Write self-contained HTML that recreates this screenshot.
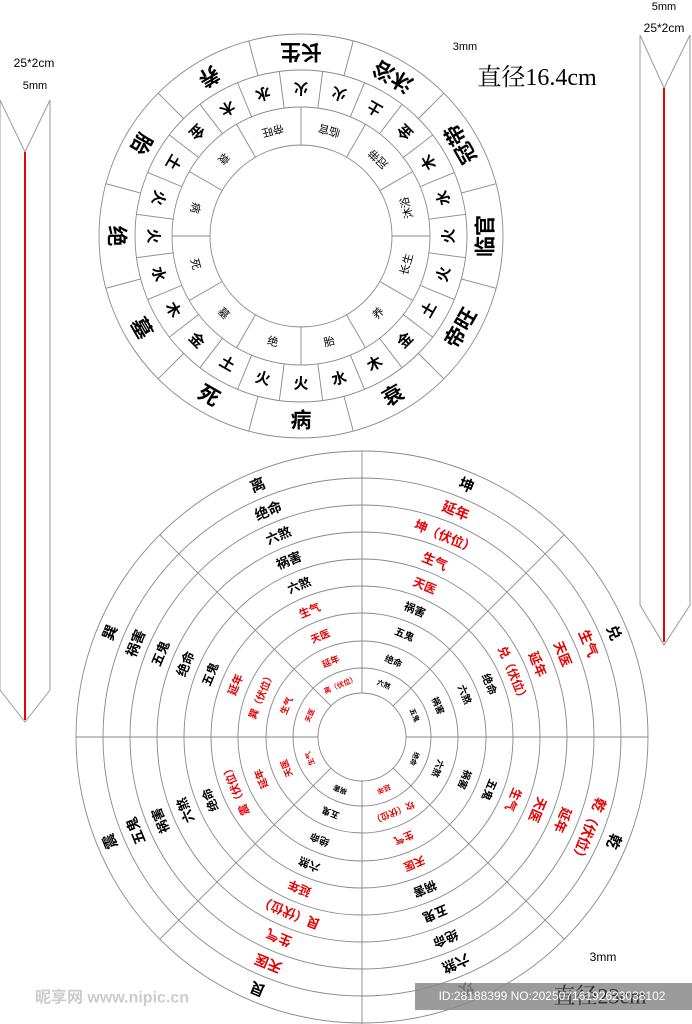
<!DOCTYPE html>
<html><head><meta charset="utf-8"><style>
html,body{margin:0;padding:0;background:#fff}
svg{display:block}
text{font-family:"Liberation Sans","Noto Sans CJK SC",sans-serif;text-anchor:middle;dominant-baseline:central}
.c{font-family:"Noto Sans CJK SC","WenQuanYi Zen Hei",sans-serif;font-weight:bold}
.r{fill:#e60000}
</style></head><body>
<svg width="692" height="1024" viewBox="0 0 692 1024" xmlns="http://www.w3.org/2000/svg">
<polygon points="0,100 25,152 50,100 50,690 25,722 0,690" fill="none" stroke="#999" stroke-width="1"/>
<line x1="25" y1="152" x2="25" y2="720" stroke="#e00" stroke-width="2"/>
<polygon points="640,35 664,88 690,35 690,605 664,645 640,605" fill="none" stroke="#999" stroke-width="1"/>
<line x1="664" y1="88" x2="664" y2="642" stroke="#e00" stroke-width="2"/>
<text x="34" y="63" font-size="12">25*2cm</text>
<text x="35" y="86" font-size="11" font-family="Liberation Serif">5mm</text>
<text x="664" y="7" font-size="11" font-family="Liberation Serif">5mm</text>
<text x="664" y="28" font-size="12">25*2cm</text>
<text x="465" y="47" font-size="11" font-family="Liberation Serif">3mm</text>
<text x="537" y="78" font-size="24" style="font-family:'Liberation Serif','Noto Serif CJK SC',serif">直径16.4cm</text>

<g transform="translate(301,236)" fill="none" stroke="#888" stroke-width="0.9">
<circle r="202"/><circle r="166"/><circle r="129"/><circle r="91"/>
<g><line x1="0" y1="-166" x2="0" y2="-202" transform="rotate(15)"/><line x1="0" y1="-166" x2="0" y2="-202" transform="rotate(45)"/><line x1="0" y1="-166" x2="0" y2="-202" transform="rotate(75)"/><line x1="0" y1="-166" x2="0" y2="-202" transform="rotate(105)"/><line x1="0" y1="-166" x2="0" y2="-202" transform="rotate(135)"/><line x1="0" y1="-166" x2="0" y2="-202" transform="rotate(165)"/><line x1="0" y1="-166" x2="0" y2="-202" transform="rotate(195)"/><line x1="0" y1="-166" x2="0" y2="-202" transform="rotate(225)"/><line x1="0" y1="-166" x2="0" y2="-202" transform="rotate(255)"/><line x1="0" y1="-166" x2="0" y2="-202" transform="rotate(285)"/><line x1="0" y1="-166" x2="0" y2="-202" transform="rotate(315)"/><line x1="0" y1="-166" x2="0" y2="-202" transform="rotate(345)"/></g>
<g><line x1="0" y1="-129" x2="0" y2="-166" transform="rotate(7.5)"/><line x1="0" y1="-129" x2="0" y2="-166" transform="rotate(22.5)"/><line x1="0" y1="-129" x2="0" y2="-166" transform="rotate(37.5)"/><line x1="0" y1="-129" x2="0" y2="-166" transform="rotate(52.5)"/><line x1="0" y1="-129" x2="0" y2="-166" transform="rotate(67.5)"/><line x1="0" y1="-129" x2="0" y2="-166" transform="rotate(82.5)"/><line x1="0" y1="-129" x2="0" y2="-166" transform="rotate(97.5)"/><line x1="0" y1="-129" x2="0" y2="-166" transform="rotate(112.5)"/><line x1="0" y1="-129" x2="0" y2="-166" transform="rotate(127.5)"/><line x1="0" y1="-129" x2="0" y2="-166" transform="rotate(142.5)"/><line x1="0" y1="-129" x2="0" y2="-166" transform="rotate(157.5)"/><line x1="0" y1="-129" x2="0" y2="-166" transform="rotate(172.5)"/><line x1="0" y1="-129" x2="0" y2="-166" transform="rotate(187.5)"/><line x1="0" y1="-129" x2="0" y2="-166" transform="rotate(202.5)"/><line x1="0" y1="-129" x2="0" y2="-166" transform="rotate(217.5)"/><line x1="0" y1="-129" x2="0" y2="-166" transform="rotate(232.5)"/><line x1="0" y1="-129" x2="0" y2="-166" transform="rotate(247.5)"/><line x1="0" y1="-129" x2="0" y2="-166" transform="rotate(262.5)"/><line x1="0" y1="-129" x2="0" y2="-166" transform="rotate(277.5)"/><line x1="0" y1="-129" x2="0" y2="-166" transform="rotate(292.5)"/><line x1="0" y1="-129" x2="0" y2="-166" transform="rotate(307.5)"/><line x1="0" y1="-129" x2="0" y2="-166" transform="rotate(322.5)"/><line x1="0" y1="-129" x2="0" y2="-166" transform="rotate(337.5)"/><line x1="0" y1="-129" x2="0" y2="-166" transform="rotate(352.5)"/></g>
<g><line x1="0" y1="-91" x2="0" y2="-129" transform="rotate(0)"/><line x1="0" y1="-91" x2="0" y2="-129" transform="rotate(30)"/><line x1="0" y1="-91" x2="0" y2="-129" transform="rotate(60)"/><line x1="0" y1="-91" x2="0" y2="-129" transform="rotate(90)"/><line x1="0" y1="-91" x2="0" y2="-129" transform="rotate(120)"/><line x1="0" y1="-91" x2="0" y2="-129" transform="rotate(150)"/><line x1="0" y1="-91" x2="0" y2="-129" transform="rotate(180)"/><line x1="0" y1="-91" x2="0" y2="-129" transform="rotate(210)"/><line x1="0" y1="-91" x2="0" y2="-129" transform="rotate(240)"/><line x1="0" y1="-91" x2="0" y2="-129" transform="rotate(270)"/><line x1="0" y1="-91" x2="0" y2="-129" transform="rotate(300)"/><line x1="0" y1="-91" x2="0" y2="-129" transform="rotate(330)"/></g>
</g>
<g transform="translate(301,236)" class="c" fill="#000">
<g font-size="21">
<text transform="rotate(0) translate(0,-185) rotate(180)">长生</text>
<text transform="rotate(30) translate(0,-185) rotate(180)">沐浴</text>
<text transform="rotate(60) translate(0,-185) rotate(180)">冠带</text>
<text transform="rotate(90) translate(0,-185) rotate(180)">临官</text>
<text transform="rotate(120) translate(0,-185) rotate(180)">帝旺</text>
<text transform="rotate(150) translate(0,-185) rotate(180)">衰</text>
<text transform="rotate(180) translate(0,-185) rotate(180)">病</text>
<text transform="rotate(210) translate(0,-185) rotate(180)">死</text>
<text transform="rotate(240) translate(0,-185) rotate(180)">墓</text>
<text transform="rotate(270) translate(0,-185) rotate(180)">绝</text>
<text transform="rotate(300) translate(0,-185) rotate(180)">胎</text>
<text transform="rotate(330) translate(0,-185) rotate(180)">养</text>
</g>
<g font-size="15">
<text transform="rotate(0) translate(0,-148) rotate(180)">火</text>
<text transform="rotate(15) translate(0,-148) rotate(180)">火</text>
<text transform="rotate(30) translate(0,-148) rotate(180)">土</text>
<text transform="rotate(45) translate(0,-148) rotate(180)">金</text>
<text transform="rotate(60) translate(0,-148) rotate(180)">木</text>
<text transform="rotate(75) translate(0,-148) rotate(180)">水</text>
<text transform="rotate(90) translate(0,-148) rotate(180)">火</text>
<text transform="rotate(105) translate(0,-148) rotate(180)">火</text>
<text transform="rotate(120) translate(0,-148) rotate(180)">土</text>
<text transform="rotate(135) translate(0,-148) rotate(180)">金</text>
<text transform="rotate(150) translate(0,-148) rotate(180)">木</text>
<text transform="rotate(165) translate(0,-148) rotate(180)">水</text>
<text transform="rotate(180) translate(0,-148) rotate(180)">火</text>
<text transform="rotate(195) translate(0,-148) rotate(180)">火</text>
<text transform="rotate(210) translate(0,-148) rotate(180)">土</text>
<text transform="rotate(225) translate(0,-148) rotate(180)">金</text>
<text transform="rotate(240) translate(0,-148) rotate(180)">木</text>
<text transform="rotate(255) translate(0,-148) rotate(180)">水</text>
<text transform="rotate(270) translate(0,-148) rotate(180)">火</text>
<text transform="rotate(285) translate(0,-148) rotate(180)">火</text>
<text transform="rotate(300) translate(0,-148) rotate(180)">土</text>
<text transform="rotate(315) translate(0,-148) rotate(180)">金</text>
<text transform="rotate(330) translate(0,-148) rotate(180)">木</text>
<text transform="rotate(345) translate(0,-148) rotate(180)">水</text>
</g>
<g font-size="11" font-weight="normal">
<text transform="rotate(15) translate(0,-110) rotate(180)">临官</text>
<text transform="rotate(45) translate(0,-110) rotate(180)">冠带</text>
<text transform="rotate(75) translate(0,-110) rotate(180)">沐浴</text>
<text transform="rotate(105) translate(0,-110) rotate(180)">长生</text>
<text transform="rotate(135) translate(0,-110) rotate(180)">养</text>
<text transform="rotate(165) translate(0,-110) rotate(180)">胎</text>
<text transform="rotate(195) translate(0,-110) rotate(180)">绝</text>
<text transform="rotate(225) translate(0,-110) rotate(180)">墓</text>
<text transform="rotate(255) translate(0,-110) rotate(180)">死</text>
<text transform="rotate(285) translate(0,-110) rotate(180)">病</text>
<text transform="rotate(315) translate(0,-110) rotate(180)">衰</text>
<text transform="rotate(345) translate(0,-110) rotate(180)">帝旺</text>
</g>
</g>

<g transform="translate(362,737)" fill="none" stroke="#888" stroke-width="0.9">
<circle r="286"/><circle r="259"/><circle r="232"/><circle r="205"/><circle r="178"/><circle r="151"/><circle r="124"/><circle r="96"/><circle r="69"/><circle r="44"/>
<line x1="0" y1="-44" x2="0" y2="-286" transform="rotate(0)"/>
<line x1="0" y1="-44" x2="0" y2="-286" transform="rotate(45)"/>
<line x1="0" y1="-44" x2="0" y2="-286" transform="rotate(90)"/>
<line x1="0" y1="-44" x2="0" y2="-286" transform="rotate(135)"/>
<line x1="0" y1="-44" x2="0" y2="-290" transform="rotate(180)"/>
<line x1="0" y1="-44" x2="0" y2="-286" transform="rotate(225)"/>
<line x1="0" y1="-44" x2="0" y2="-286" transform="rotate(270)"/>
<line x1="0" y1="-44" x2="0" y2="-286" transform="rotate(315)"/>
</g>
<g transform="translate(362,737)" class="c" fill="#000">
<g transform="rotate(22.5)">
<text font-size="15" transform="translate(0,-272)">坤</text>
<text font-size="14" class="c r" transform="translate(0,-245)">延年</text>
<text font-size="13" class="c r" transform="translate(0,-218)">坤（伏位）</text>
<text font-size="13" class="c r" transform="translate(0,-191)">生气</text>
<text font-size="12" class="c r" transform="translate(0,-164)">天医</text>
<text font-size="11" transform="translate(0,-137)">祸害</text>
<text font-size="10" transform="translate(0,-110)">五鬼</text>
<text font-size="9" transform="translate(0,-82)">绝命</text>
<text font-size="7" transform="translate(0,-56)">六煞</text>
</g>
<g transform="rotate(67.5)">
<text font-size="15" transform="translate(0,-272)">兑</text>
<text font-size="14" class="c r" transform="translate(0,-245)">生气</text>
<text font-size="13" class="c r" transform="translate(0,-218)">天医</text>
<text font-size="13" class="c r" transform="translate(0,-191)">延年</text>
<text font-size="12" class="c r" transform="translate(0,-164)">兑（伏位）</text>
<text font-size="11" transform="translate(0,-137)">绝命</text>
<text font-size="10" transform="translate(0,-110)">六煞</text>
<text font-size="9" transform="translate(0,-82)">祸害</text>
<text font-size="7" transform="translate(0,-56)">五鬼</text>
</g>
<g transform="rotate(112.5)">
<text font-size="15" transform="translate(0,-272)">乾</text>
<text font-size="14" class="c r" transform="translate(0,-245)">乾（伏位）</text>
<text font-size="13" class="c r" transform="translate(0,-218)">延年</text>
<text font-size="13" class="c r" transform="translate(0,-191)">天医</text>
<text font-size="12" class="c r" transform="translate(0,-164)">生气</text>
<text font-size="11" transform="translate(0,-137)">五鬼</text>
<text font-size="10" transform="translate(0,-110)">祸害</text>
<text font-size="9" transform="translate(0,-82)">六煞</text>
<text font-size="7" transform="translate(0,-56)">绝命</text>
</g>
<g transform="rotate(157.5)">
<text font-size="15" transform="translate(0,-272)">坎</text>
<text font-size="14" transform="translate(0,-245)">六煞</text>
<text font-size="13" transform="translate(0,-218)">绝命</text>
<text font-size="13" transform="translate(0,-191)">五鬼</text>
<text font-size="12" transform="translate(0,-164)">祸害</text>
<text font-size="11" class="c r" transform="translate(0,-137)">天医</text>
<text font-size="10" class="c r" transform="translate(0,-110)">生气</text>
<text font-size="9" class="c r" transform="translate(0,-82)">坎（伏位）</text>
<text font-size="7" class="c r" transform="translate(0,-56)">延年</text>
</g>
<g transform="rotate(202.5)">
<text font-size="15" transform="translate(0,-272)">艮</text>
<text font-size="14" class="c r" transform="translate(0,-245)">天医</text>
<text font-size="13" class="c r" transform="translate(0,-218)">生气</text>
<text font-size="13" class="c r" transform="translate(0,-191)">艮（伏位）</text>
<text font-size="12" class="c r" transform="translate(0,-164)">延年</text>
<text font-size="11" transform="translate(0,-137)">六煞</text>
<text font-size="10" transform="translate(0,-110)">绝命</text>
<text font-size="9" transform="translate(0,-82)">五鬼</text>
<text font-size="7" transform="translate(0,-56)">祸害</text>
</g>
<g transform="rotate(247.5)">
<text font-size="15" transform="translate(0,-272)">震</text>
<text font-size="14" transform="translate(0,-245)">五鬼</text>
<text font-size="13" transform="translate(0,-218)">祸害</text>
<text font-size="13" transform="translate(0,-191)">六煞</text>
<text font-size="12" transform="translate(0,-164)">绝命</text>
<text font-size="11" class="c r" transform="translate(0,-137)">震（伏位）</text>
<text font-size="10" class="c r" transform="translate(0,-110)">延年</text>
<text font-size="9" class="c r" transform="translate(0,-82)">天医</text>
<text font-size="7" class="c r" transform="translate(0,-56)">生气</text>
</g>
<g transform="rotate(292.5)">
<text font-size="15" transform="translate(0,-272)">巽</text>
<text font-size="14" transform="translate(0,-245)">祸害</text>
<text font-size="13" transform="translate(0,-218)">五鬼</text>
<text font-size="13" transform="translate(0,-191)">绝命</text>
<text font-size="12" transform="translate(0,-164)">五鬼</text>
<text font-size="11" class="c r" transform="translate(0,-137)">延年</text>
<text font-size="10" class="c r" transform="translate(0,-110)">巽（伏位）</text>
<text font-size="9" class="c r" transform="translate(0,-82)">生气</text>
<text font-size="7" class="c r" transform="translate(0,-56)">天医</text>
</g>
<g transform="rotate(337.5)">
<text font-size="15" transform="translate(0,-272)">离</text>
<text font-size="14" transform="translate(0,-245)">绝命</text>
<text font-size="13" transform="translate(0,-218)">六煞</text>
<text font-size="13" transform="translate(0,-191)">祸害</text>
<text font-size="12" transform="translate(0,-164)">六煞</text>
<text font-size="11" class="c r" transform="translate(0,-137)">生气</text>
<text font-size="10" class="c r" transform="translate(0,-110)">天医</text>
<text font-size="9" class="c r" transform="translate(0,-82)">延年</text>
<text font-size="7" class="c r" transform="translate(0,-56)">离（伏位）</text>
</g>
</g>

<text x="603" y="957" font-size="12" font-family="Liberation Serif">3mm</text>
<rect x="415" y="983" width="277" height="27" fill="#8a8a8a" opacity="0.85"/>
<text x="600" y="996" font-size="22" fill="#333" style="font-family:'Liberation Serif','Noto Serif CJK SC',serif">直径23cm</text>
<text x="552" y="996" font-size="12" fill="#fff">ID:28188399 NO:20250716192623038102</text>
<text x="112" y="998" font-size="16" fill="#ccc" font-weight="bold" style="font-family:'Liberation Sans','Noto Sans CJK SC',sans-serif">昵享网 www.nipic.cn</text>
</svg>
</body></html>
